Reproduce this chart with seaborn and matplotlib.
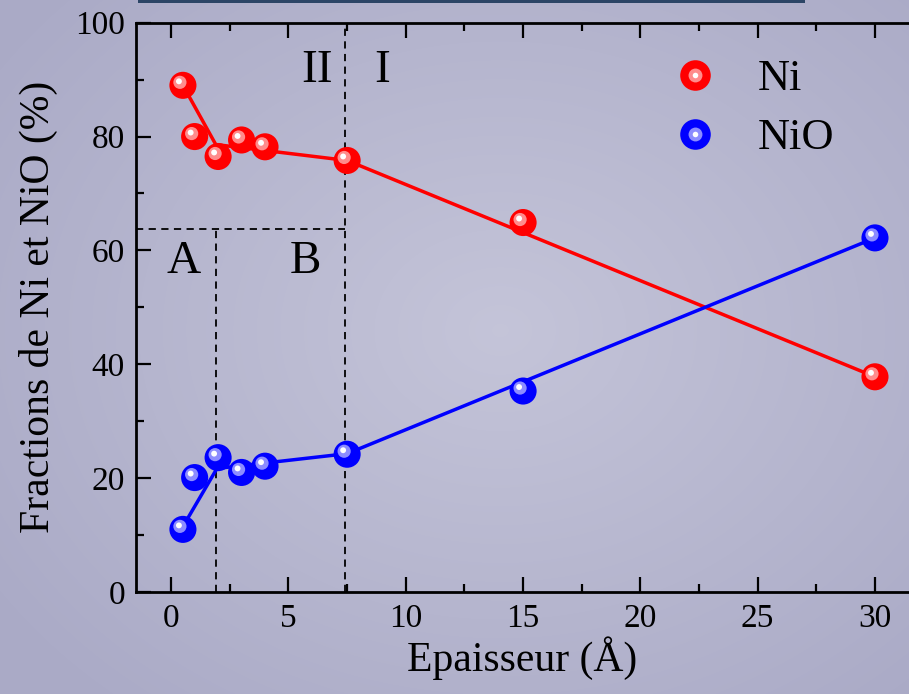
import matplotlib
matplotlib.use("Agg")
import matplotlib.pyplot as plt
import numpy as np
import pandas as pd
import seaborn as sns
from matplotlib.patches import Rectangle
from matplotlib.transforms import offset_copy
from matplotlib.ticker import MultipleLocator
from matplotlib.legend_handler import HandlerTuple

# measured fractions (%) vs thickness (Angstrom)
thickness = [0.5, 1, 2, 3, 4, 7.5, 15, 30]
ni_frac = [89.0, 80.0, 76.5, 79.4, 78.2, 75.8, 64.9, 37.8]
nio_frac = [11.0, 20.1, 23.6, 21.0, 22.1, 24.2, 35.3, 62.2]

# guide lines drawn through the data
ni_fit_x = [0.5, 1.9, 7.5, 30]
ni_fit_y = [89.0, 78.6, 75.8, 37.8]
nio_fit_x = [0.5, 1.95, 7.5, 30]
nio_fit_y = [11.5, 21.7, 24.3, 62.2]

# region boundaries
x_bound_AB = 1.9
x_bound_III = 7.4
y_bound = 63.7

df = pd.DataFrame({"thickness": thickness, "Ni": ni_frac, "NiO": nio_frac})
fit_ni = pd.DataFrame({"x": ni_fit_x, "y": ni_fit_y})
fit_nio = pd.DataFrame({"x": nio_fit_x, "y": nio_fit_y})

sns.set_theme(style="ticks")
plt.rcParams["font.family"] = ["Liberation Serif", "DejaVu Serif"]
for k in ["text.color", "axes.labelcolor", "xtick.color", "ytick.color"]:
    plt.rcParams[k] = "black"

fig = plt.figure(figsize=(9.09, 6.94), dpi=100)

# radial gradient background
bg = fig.add_axes([0, 0, 1, 1], zorder=-10)
yy, xx = np.mgrid[0:694, 0:909]
r = np.sqrt(((xx - 500) / 600.0) ** 2 + ((yy - 330) / 480.0) ** 2)
r = np.clip(r, 0, 1)
c_in = np.array([0.77, 0.77, 0.85])
c_out = np.array([0.67, 0.67, 0.78])
img = c_in[None, None, :] * (1 - r[..., None]) + c_out[None, None, :] * r[..., None]
bg.imshow(img, aspect="auto", extent=[0, 1, 0, 1])
bg.axis("off")
fig.patch.set_facecolor((0.68, 0.68, 0.79))

# dark bar at the top of the picture
fig.add_artist(Rectangle((138 / 909, 1 - 3 / 694), (805 - 138) / 909, 3 / 694,
                         transform=fig.transFigure, color="#2c4566", lw=0))

ax = fig.add_axes([136 / 909, 102 / 694, 1 - 136 / 909, (592 - 22.7) / 694])
ax.patch.set_alpha(0)

# guide lines
sns.lineplot(data=fit_ni, x="x", y="y", sort=False, color="red", lw=2.5, ax=ax, zorder=3)
sns.lineplot(data=fit_nio, x="x", y="y", sort=False, color="blue", lw=2.5, ax=ax, zorder=3)

# spheres
hl1 = offset_copy(ax.transData, fig=fig, x=-3, y=3, units="dots")
hl2 = offset_copy(ax.transData, fig=fig, x=-4, y=4, units="dots")
handles = []
for col, main, light in [("Ni", "#ff0000", "#ff8c8c"), ("NiO", "#0000ff", "#8c8cff")]:
    sns.scatterplot(data=df, x="thickness", y=col, s=380, color=main,
                    edgecolor="none", ax=ax, zorder=4, legend=False)
    ax.scatter(df["thickness"], df[col], s=90, color=light, edgecolor="none",
               transform=hl1, zorder=5)
    ax.scatter(df["thickness"], df[col], s=18, color="white", edgecolor="none",
               transform=hl2, zorder=6)
    h_main = plt.Line2D([], [], ls="none", marker="o", ms=22, color=main, mec="none")
    h_light = plt.Line2D([], [], ls="none", marker="o", ms=10, color=light, mec="none")
    h_white = plt.Line2D([], [], ls="none", marker="o", ms=4, color="white", mec="none")
    handles.append((h_main, h_light, h_white))

# region boundaries
dash = dict(color="black", lw=1.3, ls=(0, (4, 3)), zorder=2)
ax.axvline(x_bound_III, **dash)
ax.vlines(x_bound_AB, 0, y_bound, **dash)
ax.hlines(y_bound, -1.5, x_bound_III, **dash)

ax.text(6.2, 91.5, "II", fontsize=34, ha="center", va="center")
ax.text(9.0, 91.5, "I", fontsize=34, ha="center", va="center")
ax.text(0.55, 58, "A", fontsize=34, ha="center", va="center")
ax.text(5.7, 58, "B", fontsize=34, ha="center", va="center")

ax.set_xlim(-1.5, 31.45)
ax.set_ylim(0, 100)
ax.xaxis.set_major_locator(MultipleLocator(5))
ax.xaxis.set_minor_locator(MultipleLocator(2.5))
ax.yaxis.set_major_locator(MultipleLocator(20))
ax.yaxis.set_minor_locator(MultipleLocator(10))
ax.tick_params(which="both", direction="in", top=True, right=False, color="black", width=1.6)
ax.tick_params(which="major", length=11, labelsize=24, pad=8)
ax.tick_params(which="minor", length=6)
for s in ["left", "bottom", "top"]:
    ax.spines[s].set_linewidth(2.0)
    ax.spines[s].set_color("black")
ax.spines["right"].set_visible(False)

ax.set_xlabel("Epaisseur (Å)", fontsize=30, labelpad=2)
ax.set_ylabel("Fractions de Ni et NiO (%)", fontsize=30, labelpad=12)

ax.legend(handles, ["Ni", "NiO"], handler_map={tuple: HandlerTuple(ndivide=1)},
          loc="upper left", bbox_to_anchor=(0.672, 0.967), frameon=False, fontsize=32,
          handlelength=1.0, handletextpad=0.9, labelspacing=0.42, borderaxespad=0)

fig.savefig("out.png", dpi=100)
